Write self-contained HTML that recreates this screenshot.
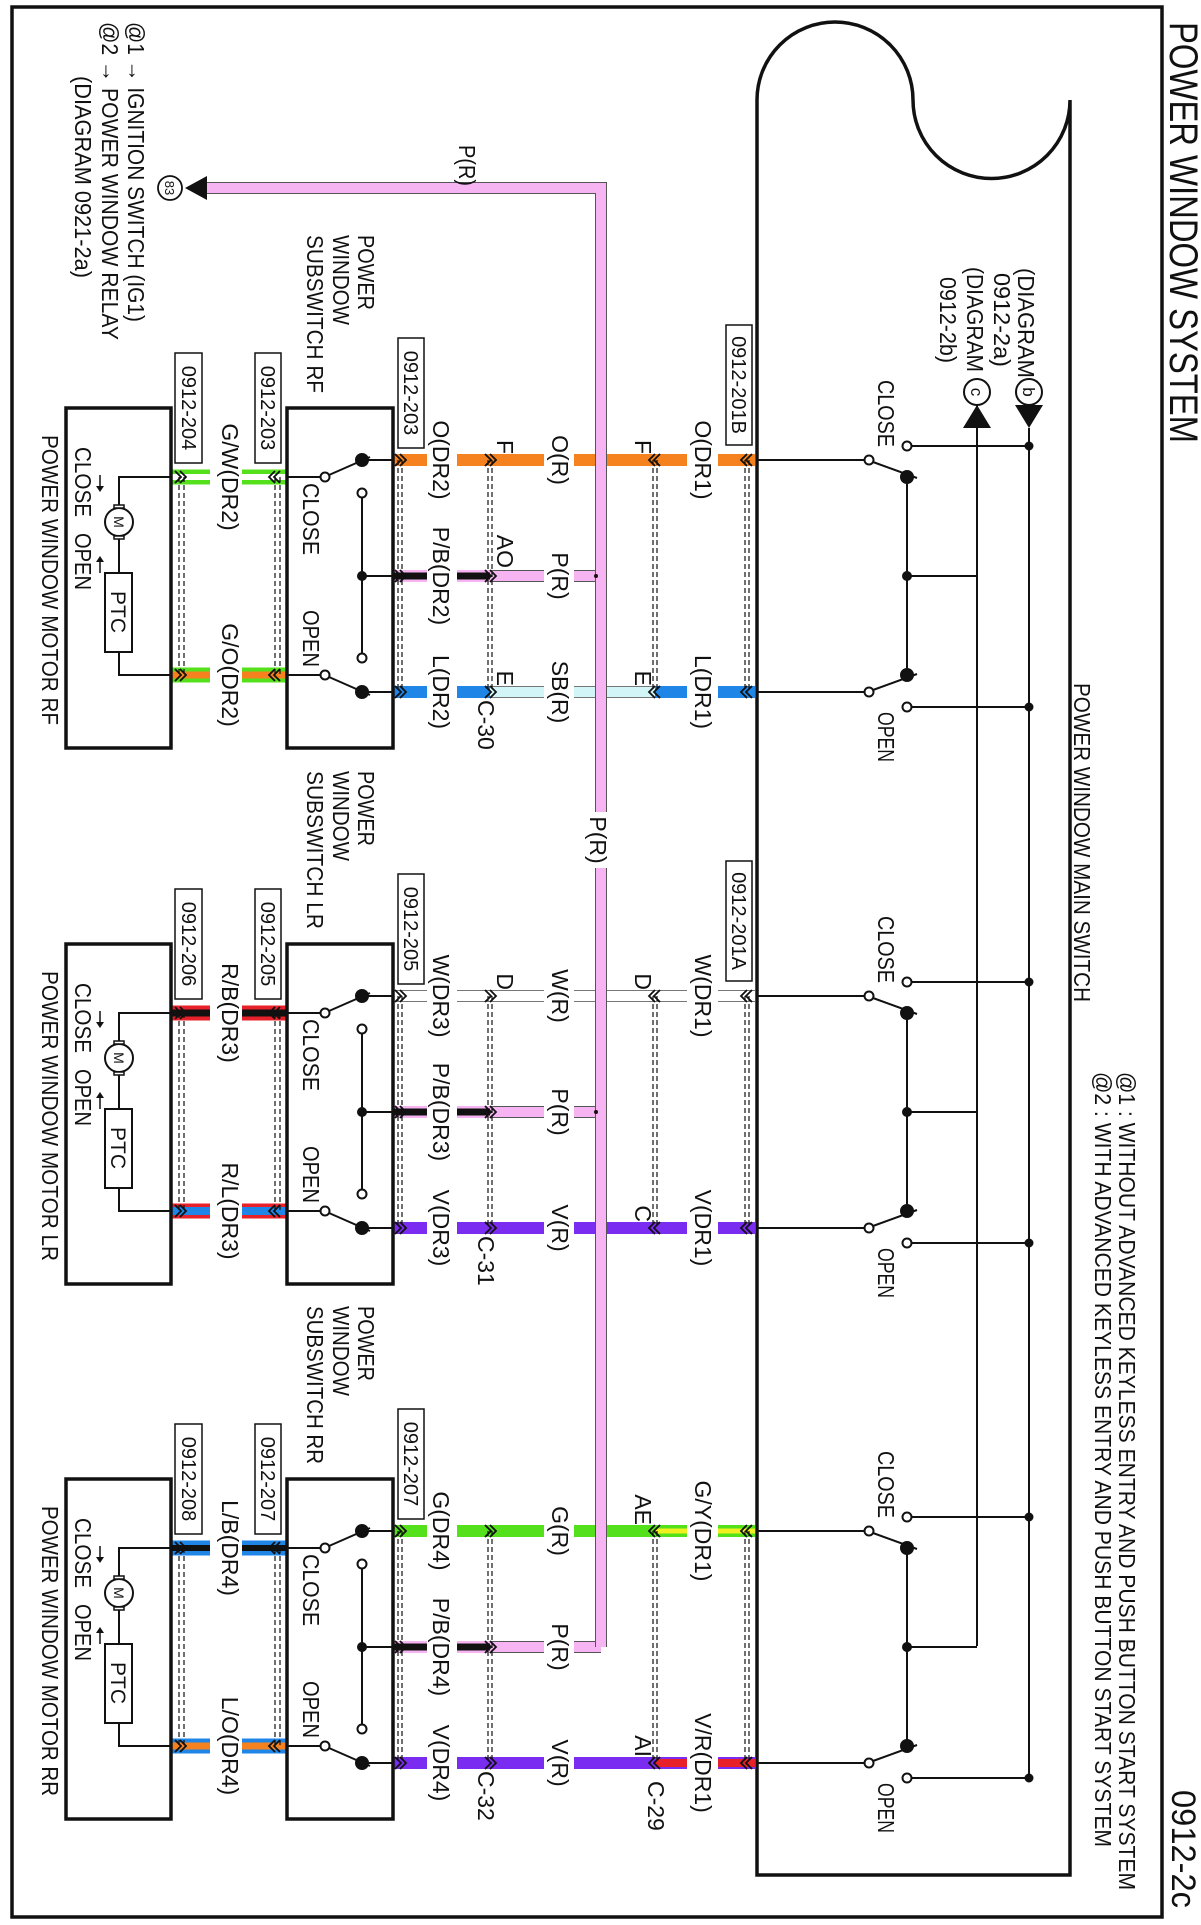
<!DOCTYPE html>
<html><head><meta charset="utf-8"><style>
html,body{margin:0;padding:0;background:#fff}
svg{display:block}
text{font-family:"Liberation Sans",Arial,sans-serif;fill:#111}
.t{font-size:23px}
.b{font-size:20px}
.s{font-size:21px}
</style></head><body>
<svg width="1201" height="1925" viewBox="0 0 1201 1925" xmlns="http://www.w3.org/2000/svg">
<defs>
<path id="chd" d="M-6,-5 L0,1 L6,-5 M-6,0 L0,6 L6,0" fill="none" stroke="#111" stroke-width="1.8"/>
<path id="chu" d="M-6,5 L0,-1 L6,5 M-6,0 L0,-6 L6,0" fill="none" stroke="#111" stroke-width="1.8"/>
<g id="msw" stroke="#111" stroke-width="2" fill="none">
<line x1="460" y1="444" x2="460" y2="336.5"/>
<circle cx="460" cy="332" r="4.5" fill="#fff"/>
<line x1="462" y1="328" x2="478" y2="284"/>
<circle cx="477" cy="294" r="6" fill="#111"/>
<circle cx="446" cy="294" r="4.5" fill="#fff"/>
<line x1="446" y1="289.5" x2="446" y2="172"/>
<circle cx="446" cy="172" r="3.5" fill="#111"/>
<line x1="477" y1="294" x2="675" y2="294"/>
<circle cx="576" cy="294" r="4" fill="#111"/>
<line x1="576" y1="294" x2="576" y2="224"/>
<line x1="692" y1="444" x2="692" y2="336.5"/>
<circle cx="692" cy="332" r="4.5" fill="#fff"/>
<line x1="690" y1="328" x2="674" y2="284"/>
<circle cx="675" cy="294" r="6" fill="#111"/>
<circle cx="707" cy="294" r="4.5" fill="#fff"/>
<line x1="707" y1="289.5" x2="707" y2="172"/>
<circle cx="707" cy="172" r="3.5" fill="#111"/>
</g>
<g id="sub">
<g stroke="#111" fill="none">
<rect x="408" y="808" width="340" height="106" stroke-width="3.5"/>
<rect x="408" y="1030" width="340" height="105" stroke-width="3.5"/>
<g stroke-width="2">
<line x1="460" y1="809" x2="460" y2="839"/>
<circle cx="460" cy="839" r="6" fill="#111"/>
<line x1="457" y1="831" x2="475" y2="872"/>
<circle cx="477" cy="876" r="4.5" fill="#fff"/>
<line x1="477" y1="880.5" x2="477" y2="914"/>
<circle cx="493" cy="839" r="4.5" fill="#fff"/>
<line x1="497.5" y1="839" x2="653.5" y2="839"/>
<circle cx="576" cy="839" r="4" fill="#111"/>
<line x1="576" y1="839" x2="576" y2="809"/>
<circle cx="658" cy="839" r="4.5" fill="#fff"/>
<circle cx="675" cy="876" r="4.5" fill="#fff"/>
<line x1="675" y1="880.5" x2="675" y2="914"/>
<line x1="677" y1="872" x2="695" y2="831"/>
<circle cx="692" cy="839" r="6" fill="#111"/>
<line x1="692" y1="839" x2="692" y2="809"/>
<polyline points="477,1030 477,1082 508,1082"/>
<circle cx="522" cy="1082" r="14" fill="#fff"/>
<polyline points="536,1082 573,1082"/>
<rect x="573" y="1069" width="79" height="27"/>
<polyline points="652,1082 675,1082 675,1030"/>
<line x1="475" y1="1101" x2="486" y2="1101" stroke-width="1.5"/>
<line x1="573" y1="1101" x2="562" y2="1101" stroke-width="1.5"/>
</g>
<rect x="505" y="1077" width="3" height="10" stroke-width="1.5" fill="#fff"/>
<rect x="536" y="1077" width="3" height="10" stroke-width="1.5" fill="#fff"/>
<g stroke-width="1.2" stroke-dasharray="5,3">
<line x1="477" y1="921" x2="675" y2="921"/><line x1="477" y1="926" x2="675" y2="926"/>
<line x1="477" y1="1017" x2="675" y2="1017"/><line x1="477" y1="1022" x2="675" y2="1022"/>
<line x1="460" y1="452" x2="692" y2="452"/><line x1="460" y1="456" x2="692" y2="456"/>
<line x1="460" y1="544" x2="692" y2="544"/><line x1="460" y1="548" x2="692" y2="548"/>
<line x1="460" y1="709" x2="692" y2="709"/><line x1="460" y1="713" x2="692" y2="713"/>
<line x1="460" y1="799" x2="692" y2="799"/><line x1="460" y1="803" x2="692" y2="803"/>
</g>
</g>
<polygon points="486,1097 486,1105 492,1101" fill="#111"/>
<polygon points="562,1097 562,1105 556,1101" fill="#111"/>
<text x="522" y="1087" font-size="14" text-anchor="middle">M</text>
<text x="612" y="1090" class="s" text-anchor="middle">PTC</text>
<text x="483" y="898" class="t" textLength="72" lengthAdjust="spacingAndGlyphs">CLOSE</text>
<text x="610" y="898" class="t" textLength="57" lengthAdjust="spacingAndGlyphs">OPEN</text>
<text x="447" y="1126" class="t" textLength="70" lengthAdjust="spacingAndGlyphs">CLOSE</text>
<text x="533" y="1126" class="t" textLength="57" lengthAdjust="spacingAndGlyphs">OPEN</text>
<text x="380" y="323" class="t" textLength="67" lengthAdjust="spacingAndGlyphs">CLOSE</text>
<text x="712" y="323" class="t" textLength="50" lengthAdjust="spacingAndGlyphs">OPEN</text>
<use href="#chd" x="477" y="926"/><use href="#chd" x="675" y="926"/>
<use href="#chu" x="477" y="1021"/><use href="#chu" x="675" y="1021"/>
<rect x="338" y="777" width="110" height="26" fill="#fff" stroke="#111" stroke-width="1.5"/>
<rect x="353" y="920" width="110" height="26" fill="#fff" stroke="#111" stroke-width="1.5"/>
<rect x="353" y="999" width="110" height="27" fill="#fff" stroke="#111" stroke-width="1.5"/>
<text x="235" y="843" class="t" textLength="75" lengthAdjust="spacingAndGlyphs">POWER</text>
<text x="235" y="868" class="t" textLength="90" lengthAdjust="spacingAndGlyphs">WINDOW</text>
</g>
<g id="pb">
<path d="M576 600V627M576 657V711" stroke="#555" stroke-width="12" fill="none"/>
<path d="M576 600V627M576 657V711" stroke="#f6b4f2" stroke-width="10" fill="none"/>
<path d="M576 711V744M576 774V807" stroke="#f6b4f2" stroke-width="12" fill="none"/>
<path d="M576 711V744M576 774V807" stroke="#111" stroke-width="7" fill="none"/>
<use href="#chu" x="576" y="711"/><use href="#chu" x="576" y="801"/>
</g>
<g id="chs">
<use href="#chd" x="460" y="454"/><use href="#chd" x="692" y="454"/>
<use href="#chd" x="460" y="546"/><use href="#chd" x="692" y="546"/>
<use href="#chu" x="460" y="711"/><use href="#chu" x="692" y="711"/>
<use href="#chu" x="460" y="801"/><use href="#chu" x="692" y="801"/>
</g>
</defs>

<g transform="translate(1201,0) rotate(90)">
<rect x="7" y="39" width="1910" height="1150" fill="none" stroke="#111" stroke-width="3.5"/>
<text x="22" y="31" font-size="40" textLength="421" lengthAdjust="spacingAndGlyphs">POWER WINDOW SYSTEM</text>
<text x="1790" y="29" font-size="34" textLength="118" lengthAdjust="spacingAndGlyphs">0912-2c</text>
<text x="1072" y="82" class="t" textLength="818" lengthAdjust="spacingAndGlyphs">@1 : WITHOUT ADVANCED KEYLESS ENTRY AND PUSH BUTTON START SYSTEM</text>
<text x="1072" y="106" class="t" textLength="775" lengthAdjust="spacingAndGlyphs">@2 : WITH ADVANCED KEYLESS ENTRY AND PUSH BUTTON START SYSTEM</text>
<text x="683" y="127" class="t" textLength="319" lengthAdjust="spacingAndGlyphs">POWER WINDOW MAIN SWITCH</text>

<path d="M100 131 A78.5 78.5 0 0 1 100 288 A78 78 0 0 0 100 444 L1875 444 L1875 131 Z" fill="none" stroke="#111" stroke-width="3.5"/>

<g stroke="#111" stroke-width="2">
<line x1="428" y1="172" x2="1777" y2="172"/>
<line x1="405" y1="224" x2="1646" y2="224"/>
</g>
<polygon points="405,158 405,186 428,172" fill="#111"/>
<polygon points="428,210 428,238 405,224" fill="#111"/>
<circle cx="392" cy="172" r="13" fill="#fff" stroke="#111" stroke-width="2"/>
<circle cx="392" cy="224" r="13" fill="#fff" stroke="#111" stroke-width="2"/>
<text x="392" y="178" font-size="17" text-anchor="middle">b</text>
<text x="392" y="230" font-size="17" text-anchor="middle">c</text>
<text x="378" y="183" class="t" text-anchor="end" textLength="110" lengthAdjust="spacingAndGlyphs">(DIAGRAM</text>
<text x="367" y="207" class="t" text-anchor="end" textLength="94" lengthAdjust="spacingAndGlyphs">0912-2a)</text>
<text x="372" y="234" class="t" text-anchor="end" textLength="105" lengthAdjust="spacingAndGlyphs">(DIAGRAM</text>
<text x="363" y="261" class="t" text-anchor="end" textLength="86" lengthAdjust="spacingAndGlyphs">0912-2b)</text>

<text x="22" y="1073" class="t" textLength="300" lengthAdjust="spacingAndGlyphs">@1 → IGNITION SWITCH (IG1)</text>
<text x="22" y="1099" class="t" textLength="318" lengthAdjust="spacingAndGlyphs">@2 → POWER WINDOW RELAY</text>
<text x="76" y="1126" class="t" textLength="202" lengthAdjust="spacingAndGlyphs">(DIAGRAM 0921-2a)</text>

<use href="#msw"/>
<use href="#msw" transform="translate(536,0)"/>
<use href="#msw" transform="translate(1071,0)"/>

<g>
<path d="M460 446V483M460 514V627M460 657V744M460 774V807" stroke="#f5821f" stroke-width="12" fill="none"/>
<path d="M692 446V483M692 514V546M692 711V744M692 774V807" stroke="#1f86e8" stroke-width="12" fill="none"/>
<path d="M692 546V627M692 657V711" stroke="#777" stroke-width="12" fill="none"/>
<path d="M692 546V627M692 657V711" stroke="#d2f6f8" stroke-width="10" fill="none"/>
<path d="M477 914V959M477 991V1030" stroke="#55e01c" stroke-width="15" fill="none"/>
<path d="M477 914V959M477 991V1030" stroke="#fff" stroke-width="6" fill="none"/>
<path d="M675 914V959M675 991V1030" stroke="#55e01c" stroke-width="15" fill="none"/>
<path d="M675 914V959M675 991V1030" stroke="#f5821f" stroke-width="7" fill="none"/>
<use href="#pb"/>
<use href="#sub"/>
<use href="#chs"/>
<rect x="325" y="449" width="120" height="26" fill="#fff" stroke="#111" stroke-width="1.5"/>
<text x="385" y="469" class="b" text-anchor="middle">0912-201B</text>
<text x="393" y="797" class="b" text-anchor="middle">0912-203</text>
<text x="408" y="940" class="b" text-anchor="middle">0912-203</text>
<text x="408" y="1019" class="b" text-anchor="middle">0912-204</text>
<text x="460" y="506" class="t" text-anchor="middle">O(DR1)</text>
<text x="454" y="566" class="t" text-anchor="end">F</text>
<text x="460" y="649" class="t" text-anchor="middle">O(R)</text>
<text x="454" y="704" class="t" text-anchor="end">F</text>
<text x="460" y="768" class="t" text-anchor="middle">O(DR2)</text>
<text x="576" y="649" class="t" text-anchor="middle">P(R)</text>
<text x="568" y="704" class="t" text-anchor="end">AO</text>
<text x="576" y="768" class="t" text-anchor="middle">P/B(DR2)</text>
<text x="692" y="506" class="t" text-anchor="middle">L(DR1)</text>
<text x="686" y="566" class="t" text-anchor="end">E</text>
<text x="692" y="649" class="t" text-anchor="middle">SB(R)</text>
<text x="686" y="704" class="t" text-anchor="end">E</text>
<text x="692" y="768" class="t" text-anchor="middle">L(DR2)</text>
<text x="700" y="723" class="t">C-30</text>
<text x="477" y="979" class="t" text-anchor="middle">G/W(DR2)</text>
<text x="675" y="979" class="t" text-anchor="middle">G/O(DR2)</text>
<text x="235" y="894" class="t" textLength="158" lengthAdjust="spacingAndGlyphs">SUBSWITCH RF</text>
<text x="435" y="1159" class="t" textLength="290" lengthAdjust="spacingAndGlyphs">POWER WINDOW MOTOR RF</text>
</g>

<g transform="translate(536,0)">
<path d="M460 446V483M460 514V627M460 657V744M460 774V807" stroke="#777" stroke-width="12" fill="none"/>
<path d="M460 446V483M460 514V627M460 657V744M460 774V807" stroke="#fff" stroke-width="10" fill="none"/>
<path d="M692 446V483M692 514V627M692 657V744M692 774V807" stroke="#7a2cf0" stroke-width="12" fill="none"/>
<path d="M477 914V959M477 991V1030" stroke="#e8202a" stroke-width="15" fill="none"/>
<path d="M477 914V959M477 991V1030" stroke="#111" stroke-width="7" fill="none"/>
<path d="M675 914V959M675 991V1030" stroke="#e8202a" stroke-width="15" fill="none"/>
<path d="M675 914V959M675 991V1030" stroke="#1f86e8" stroke-width="8" fill="none"/>
<use href="#pb"/>
<use href="#sub"/>
<use href="#chs"/>
<rect x="325" y="449" width="120" height="26" fill="#fff" stroke="#111" stroke-width="1.5"/>
<text x="385" y="469" class="b" text-anchor="middle">0912-201A</text>
<text x="393" y="797" class="b" text-anchor="middle">0912-205</text>
<text x="408" y="940" class="b" text-anchor="middle">0912-205</text>
<text x="408" y="1019" class="b" text-anchor="middle">0912-206</text>
<text x="460" y="506" class="t" text-anchor="middle">W(DR1)</text>
<text x="454" y="566" class="t" text-anchor="end">D</text>
<text x="460" y="649" class="t" text-anchor="middle">W(R)</text>
<text x="454" y="704" class="t" text-anchor="end">D</text>
<text x="460" y="768" class="t" text-anchor="middle">W(DR3)</text>
<text x="576" y="649" class="t" text-anchor="middle">P(R)</text>
<text x="576" y="768" class="t" text-anchor="middle">P/B(DR3)</text>
<text x="692" y="506" class="t" text-anchor="middle">V(DR1)</text>
<text x="686" y="566" class="t" text-anchor="end">C</text>
<text x="692" y="649" class="t" text-anchor="middle">V(R)</text>
<text x="692" y="768" class="t" text-anchor="middle">V(DR3)</text>
<text x="700" y="723" class="t">C-31</text>
<text x="477" y="979" class="t" text-anchor="middle">R/B(DR3)</text>
<text x="675" y="979" class="t" text-anchor="middle">R/L(DR3)</text>
<text x="235" y="894" class="t" textLength="158" lengthAdjust="spacingAndGlyphs">SUBSWITCH LR</text>
<text x="435" y="1159" class="t" textLength="290" lengthAdjust="spacingAndGlyphs">POWER WINDOW MOTOR LR</text>
</g>

<g transform="translate(1071,0)">
<path d="M460 446V483M460 514V627M460 657V744M460 774V807" stroke="#55e01c" stroke-width="12" fill="none"/>
<path d="M460 446V483M460 514V546" stroke="#f0f020" stroke-width="5" fill="none"/>
<path d="M692 446V483M692 514V627M692 657V744M692 774V807" stroke="#7a2cf0" stroke-width="12" fill="none"/>
<path d="M692 446V483M692 514V546" stroke="#e8202a" stroke-width="8" fill="none"/>
<path d="M477 914V959M477 991V1030" stroke="#1f86e8" stroke-width="15" fill="none"/>
<path d="M477 914V959M477 991V1030" stroke="#111" stroke-width="6" fill="none"/>
<path d="M675 914V959M675 991V1030" stroke="#1f86e8" stroke-width="15" fill="none"/>
<path d="M675 914V959M675 991V1030" stroke="#f5821f" stroke-width="7" fill="none"/>
<use href="#pb"/>
<use href="#sub"/>
<use href="#chs"/>
<text x="393" y="797" class="b" text-anchor="middle">0912-207</text>
<text x="408" y="940" class="b" text-anchor="middle">0912-207</text>
<text x="408" y="1019" class="b" text-anchor="middle">0912-208</text>
<text x="460" y="506" class="t" text-anchor="middle">G/Y(DR1)</text>
<text x="454" y="566" class="t" text-anchor="end">AE</text>
<text x="460" y="649" class="t" text-anchor="middle">G(R)</text>
<text x="460" y="768" class="t" text-anchor="middle">G(DR4)</text>
<text x="576" y="649" class="t" text-anchor="middle">P(R)</text>
<text x="576" y="768" class="t" text-anchor="middle">P/B(DR4)</text>
<text x="692" y="506" class="t" text-anchor="middle">V/R(DR1)</text>
<text x="686" y="566" class="t" text-anchor="end">AI</text>
<text x="692" y="649" class="t" text-anchor="middle">V(R)</text>
<text x="692" y="768" class="t" text-anchor="middle">V(DR4)</text>
<text x="700" y="723" class="t">C-32</text>
<text x="710" y="553" class="t">C-29</text>
<text x="477" y="979" class="t" text-anchor="middle">L/B(DR4)</text>
<text x="675" y="979" class="t" text-anchor="middle">L/O(DR4)</text>
<text x="235" y="894" class="t" textLength="158" lengthAdjust="spacingAndGlyphs">SUBSWITCH RR</text>
<text x="435" y="1159" class="t" textLength="290" lengthAdjust="spacingAndGlyphs">POWER WINDOW MOTOR RR</text>
</g>

<path d="M188 994 L188 600 L1647 600" stroke="#555" stroke-width="12" fill="none"/>
<path d="M188 994 L188 600 L1647 600" stroke="#f6b4f2" stroke-width="10" fill="none"/>
<circle cx="576" cy="605" r="2" fill="#111"/>
<circle cx="1112" cy="605" r="2" fill="#111"/>
<rect x="812" y="590" width="56" height="22" fill="#fff"/>
<text x="840" y="611" class="t" text-anchor="middle">P(R)</text>
<text x="145" y="742" class="t" textLength="41" lengthAdjust="spacingAndGlyphs">P(R)</text>
<polygon points="176,994 200,994 188,1016" fill="#111"/>
<circle cx="188" cy="1031" r="12" fill="#fff" stroke="#111" stroke-width="1.8"/>
<text x="188" y="1036" font-size="13" text-anchor="middle">83</text>
</g>
</svg>
</body></html>
